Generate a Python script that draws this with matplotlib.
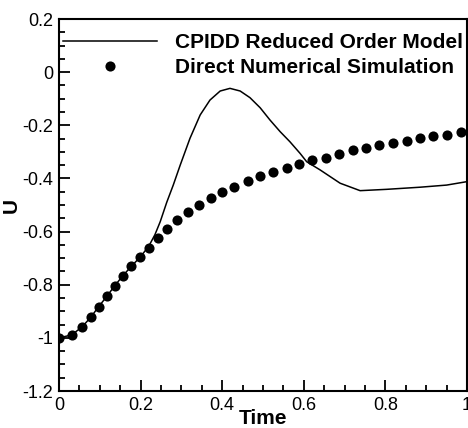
import numpy as np
import matplotlib
matplotlib.use('Agg')
import matplotlib.pyplot as plt

############################################################
# Data

# Direct Numerical Simulation (symbols)
t_dns = [0.000, 0.031, 0.057, 0.078, 0.097, 0.117, 0.136, 0.156, 0.177, 0.199,
         0.220, 0.242, 0.265, 0.290, 0.317, 0.344, 0.372, 0.400, 0.430, 0.462,
         0.493, 0.525, 0.558, 0.589, 0.621, 0.654, 0.687, 0.720, 0.752, 0.785,
         0.819, 0.852, 0.885, 0.917, 0.950, 0.985]
u_dns = [-1.000, -0.989, -0.958, -0.922, -0.883, -0.844, -0.805, -0.767, -0.731, -0.696,
         -0.662, -0.625, -0.590, -0.557, -0.528, -0.500, -0.473, -0.452, -0.431, -0.408,
         -0.392, -0.376, -0.362, -0.347, -0.331, -0.322, -0.308, -0.294, -0.284, -0.275,
         -0.266, -0.258, -0.249, -0.240, -0.235, -0.226]

# CPIDD reduced order model (line)
t_rom = [0.000, 0.031, 0.057, 0.078, 0.097, 0.117, 0.136, 0.156, 0.177, 0.199,
         0.220, 0.235, 0.248, 0.264, 0.280, 0.297, 0.321, 0.346, 0.370, 0.395,
         0.419, 0.444, 0.468, 0.493, 0.517, 0.542, 0.566, 0.591, 0.607, 0.640,
         0.689, 0.738, 0.803, 0.885, 0.950, 1.000]
u_rom = [-1.000, -0.989, -0.958, -0.922, -0.883, -0.844, -0.805, -0.767, -0.731, -0.696,
         -0.655, -0.612, -0.563, -0.490, -0.425, -0.350, -0.249, -0.161, -0.105, -0.071,
         -0.061, -0.071, -0.096, -0.134, -0.180, -0.224, -0.262, -0.306, -0.337, -0.368,
         -0.418, -0.446, -0.441, -0.433, -0.425, -0.412]

############################################################
# Plotting

plt.rcParams['font.family'] = ['Liberation Sans', 'DejaVu Sans']

fig = plt.figure(figsize=(4.68, 4.28), dpi=100)
ax = fig.add_axes([0.1261, 0.0864, 0.8718, 0.8692])

ax.plot(t_rom, u_rom, color='k', lw=1.1, label='CPIDD Reduced Order Model')
ax.plot(t_dns, u_dns, 'o', color='k', ms=7.3, mew=0, label='Direct Numerical Simulation')

ax.set_xlim(0, 1)
ax.set_ylim(-1.2, 0.2)
ax.set_xticks(np.arange(0, 1.01, 0.2))
ax.set_xticklabels(['0', '0.2', '0.4', '0.6', '0.8', '1'])
ax.set_yticks(np.arange(-1.2, 0.21, 0.2))
ax.set_yticklabels(['-1.2', '-1', '-0.8', '-0.6', '-0.4', '-0.2', '0', '0.2'])
ax.set_xticks(np.arange(0, 1.001, 0.05), minor=True)
ax.set_yticks(np.arange(-1.2, 0.201, 0.05), minor=True)

ax.tick_params(which='both', direction='in', top=False, right=False, width=1.3,
               labelsize=13, pad=4)
ax.tick_params(which='major', length=8)
ax.tick_params(which='minor', length=4.5)
for s in ax.spines.values():
    s.set_linewidth(1.5)

ax.set_xlabel('Time', fontsize=15, fontweight='bold', labelpad=-3)
ax.set_ylabel('U', fontsize=15, fontweight='bold', labelpad=1)

leg = ax.legend(loc='upper left', bbox_to_anchor=(0.01, 0.962), frameon=False,
                prop={'weight': 'bold', 'size': 15}, handlelength=4.5,
                handletextpad=0.87, labelspacing=0.3, borderpad=0, borderaxespad=0)

plt.savefig('out.png', dpi=100)
